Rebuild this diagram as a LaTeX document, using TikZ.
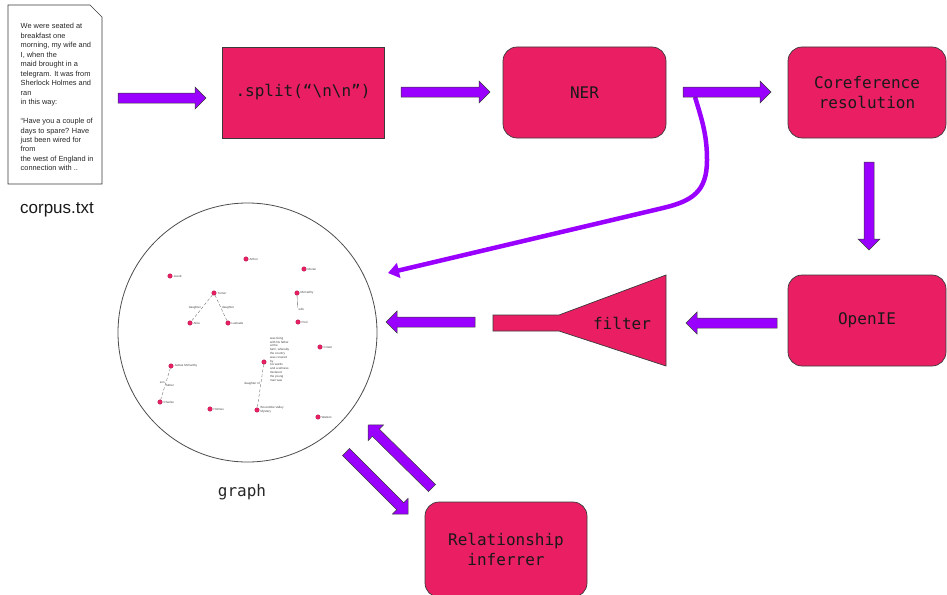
\documentclass[tikz,border=0pt]{standalone}
\usepackage{fontspec}
\setmainfont{Liberation Sans}
\newfontfamily\monof{DejaVu Sans Mono}
\usetikzlibrary{calc,arrows.meta}
\definecolor{pinkbox}{HTML}{E91E63}
\definecolor{purp}{HTML}{9900FF}
\definecolor{edgec}{HTML}{3A3A3A}
\newcommand\fatarrow[2]{%
  \coordinate (fa-h) at ($(#2)!11pt!(#1)$);
  \filldraw[fatarr] ($(#1)!5pt!90:(#2)$) -- ($(fa-h)!5pt!-90:(#1)$) -- ($(fa-h)!11pt!-90:(#1)$) -- (#2)
     -- ($(fa-h)!11pt!90:(#1)$) -- ($(fa-h)!5pt!90:(#1)$) -- ($(#1)!5pt!-90:(#2)$) -- cycle;}
\tikzset{
  box/.style={fill=pinkbox, draw=edgec, line width=0.7pt, font=\monof\fontsize{16}{20}\selectfont,
    text=black!90, align=center, inner sep=0pt},
  rbox/.style={box, rounded corners=14pt},
  fatarr/.style={fill=purp, draw=edgec, line width=0.5pt, line join=miter},
  gdot/.style={circle, fill=pinkbox, draw=pinkbox!70!black, line width=0.2pt, inner sep=0pt, minimum size=4.6pt},
  glab/.style={font=\fontsize{3}{3.6}\selectfont, text=black!75, inner sep=1pt},
  gedge/.style={draw=black!60, line width=0.35pt, densely dashed},
}
\begin{document}
\begin{tikzpicture}[x=1pt,y=-1pt]
\useasboundingbox (0,0) rectangle (947,594);

% corpus document
\draw[draw=edgec, line width=0.6pt, fill=white] (8,5) -- (90,5) -- (102,17) -- (102,184) -- (8,184) -- cycle;
\node[anchor=north west, align=left, inner sep=0pt, font=\fontsize{7.4}{9.47}\selectfont, text=black!85] (doc) at (20.5,23.3)
 {We were seated at\\breakfast one\\morning, my wife and\\I, when the\\maid brought in a\\telegram. It was from\\Sherlock Holmes and\\ran\\in this way:\\[9.47pt]``Have you a couple of\\days to spare? Have\\just been wired for\\from\\the west of England in\\connection with ..};
\node[font=\fontsize{17}{20}\selectfont, text=black!90] (corpus) at (57,210) {corpus.txt};

% boxes
\node[box, minimum width=162pt, minimum height=91pt] (split) at (303,92.5) {.split(“\textbackslash n\textbackslash n”)};
\node[rbox, minimum width=163pt, minimum height=91pt] (ner) at (584.5,92.5) {NER};
\node[rbox, minimum width=158pt, minimum height=91pt] (coref) at (867,92.5) {Coreference\\resolution};
\node[rbox, minimum width=158pt, minimum height=91pt] (openie) at (867,320.5) {OpenIE};
\node[rbox, minimum width=162pt, minimum height=95pt] (rel) at (506,549.5) {Relationship\\inferrer};

% filter
\filldraw[fill=pinkbox, draw=edgec, line width=0.7pt] (493,315) -- (559,315) -- (666,275) -- (666,366) -- (559,331) -- (493,331) -- cycle;
\node[font=\monof\fontsize{16}{20}\selectfont, text=black!90] (filter) at (622,323) {filter};

% graph circle
\node[circle, draw=black!70, line width=0.8pt, minimum size=259pt, inner sep=0pt] (graph) at (247.5,332.5) {};
\node[font=\monof\fontsize{16}{20}\selectfont, text=black!85] (graphlab) at (242,492) {graph};

% graph contents
\node[gdot, label={[glab]right:Arthur}] (g1) at (246,259) {};
\node[gdot, label={[glab]right:Jacob}] (g2) at (170,276) {};
\node[gdot, label={[glab]right:Moran}] (g3) at (304,269) {};
\node[gdot, label={[glab]right:Turner}] (g4) at (214,293) {};
\node[gdot, label={[glab]right:McCarthy}] (g5) at (297,293) {};
\node[gdot, label={[glab]right:Alice}] (g6) at (190,323) {};
\node[gdot, label={[glab]right:Lestrade}] (g7) at (228,323) {};
\node[gdot, label={[glab]right:Pool}] (g8) at (298,322) {};
\node[gdot, label={[glab]right:Crown}] (g9) at (320,347) {};
\node[gdot, label={[glab]right:James McCarthy}] (g10) at (171,366) {};
\node[gdot] (g11) at (264,362) {};
\node[gdot, label={[glab]right:Charles}] (g12) at (160,402) {};
\node[gdot, label={[glab]right:Holmes}] (g13) at (210,409) {};
\node[gdot, label={[glab,align=left]right:Boscombe Valley\\Mystery}] (g14) at (257,410) {};
\node[gdot, label={[glab]right:Watson}] (g15) at (318,417) {};
\node[glab, anchor=north west, align=left, font=\fontsize{3}{3.8}\selectfont] (g11txt) at (269,336)
 {was living\\with his father\\at the\\farm, whereby\\the country\\was covered\\by\\his words\\and a witness\\declared\\the young\\man was};
\draw[gedge] (g4) -- (g6) node[midway, left, glab] {daughter};
\draw[gedge] (g4) -- (g7) node[midway, right, glab] {daughter};
\draw[draw=black!60, line width=0.35pt] (g5) -- ($(g5)!0.5!(g8)$) node[below right, glab] {wife};
\draw[gedge] (g10) -- (g12) node[pos=0.45, left, glab] {son} node[pos=0.55, right, glab] {father};
\draw[gedge] (g11) -- (g14) node[pos=0.45, left, glab] {daughter of};

% fat arrows
\coordinate (a1t) at (118,98);  \coordinate (a1h) at (206,98);
\coordinate (a2t) at (401,92);  \coordinate (a2h) at (490,92);
\coordinate (a3t) at (683,92);  \coordinate (a3h) at (771,92);
\coordinate (a4t) at (869,162); \coordinate (a4h) at (869,250);
\coordinate (a5t) at (777,323); \coordinate (a5h) at (686,323);
\coordinate (a6t) at (475,322); \coordinate (a6h) at (386,322);
\coordinate (a7t) at (432,488); \coordinate (a7h) at (368,425);
\coordinate (a8t) at (346,452); \coordinate (a8h) at (408,514);

% curved arrow NER -> graph
\coordinate (cs) at (695,97);
\coordinate (ce) at (388,273);
\draw[purp, line width=4.5pt, -{Triangle[length=11pt,width=15pt]}]
  (cs) .. controls (702,120) and (707,135) .. (707,160)
       .. controls (707,192) and (692,201) .. (663,208) -- (ce);

\fatarrow{a1t}{a1h}
\fatarrow{a2t}{a2h}
\fatarrow{a3t}{a3h}
\fatarrow{a4t}{a4h}
\fatarrow{a5t}{a5h}
\fatarrow{a6t}{a6h}
\fatarrow{a7t}{a7h}
\fatarrow{a8t}{a8h}
\end{tikzpicture}
\end{document}
